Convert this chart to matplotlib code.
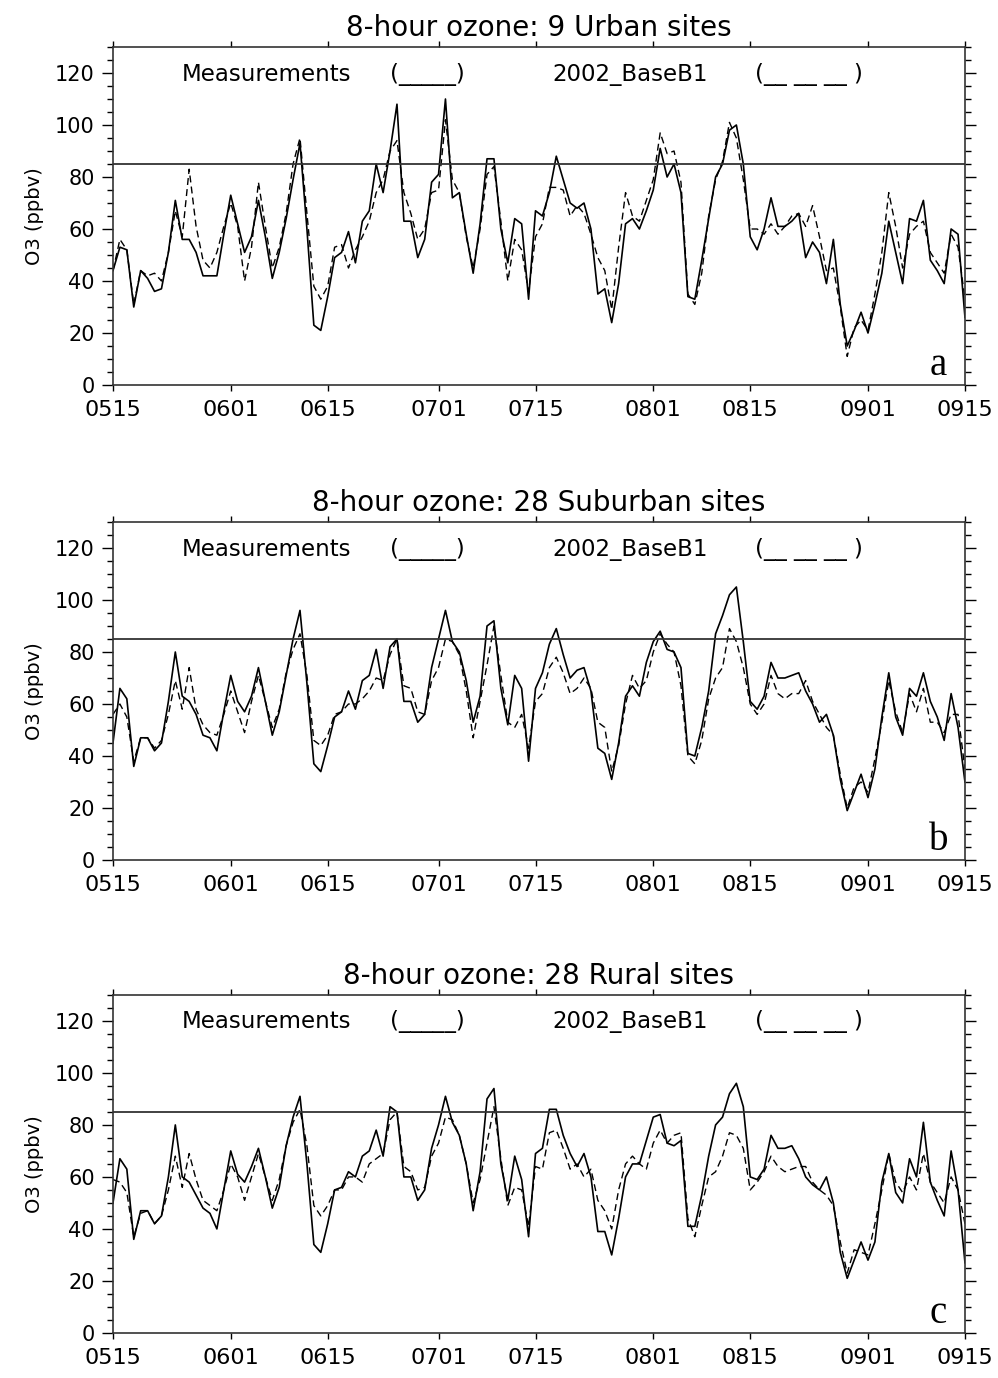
import numpy as np
import pandas as pd
import matplotlib
matplotlib.use("Agg")
import matplotlib.pyplot as plt
from matplotlib.ticker import MultipleLocator

# ----- daily 8-hour ozone, 0515 -> 0915 (ppbv) -----

start_date = "2002-05-15"
end_date = "2002-09-15"
tick_labels = ["0515", "0601", "0615", "0701", "0715", "0801", "0815", "0901", "0915"]

urban_obs = [44, 53, 52, 30, 44, 41, 36, 37, 51, 71, 56, 56, 51, 42, 42, 42, 58, 73, 62, 51,
             57, 71, 57, 41, 51, 64, 79, 93, 60, 23, 21, 34, 49, 51, 59, 47, 63, 67, 85, 74,
             90, 108, 63, 63, 49, 56, 78, 81, 110, 72, 74, 58, 43, 62, 87, 87, 60, 47, 64, 62,
             33, 67, 65, 74, 88, 79, 70, 68, 70, 60, 35, 37, 24, 39, 62, 64, 60, 67, 75, 91,
             80, 85, 74, 34, 33, 48, 64, 80, 85, 98, 100, 85, 57, 52, 60, 72, 61, 61, 63, 66,
             49, 55, 51, 39, 56, 31, 15, 21, 28, 20, 31, 43, 63, 51, 39, 64, 63, 71, 48, 44,
             39, 60, 58, 26]
urban_mod = [44, 56, 52, 31, 44, 42, 43, 40, 51, 67, 57, 83, 61, 48, 45, 51, 61, 70, 61, 40,
             53, 78, 61, 45, 53, 66, 85, 95, 66, 38, 33, 38, 53, 54, 45, 52, 57, 63, 74, 79,
             90, 94, 74, 66, 56, 60, 74, 75, 102, 79, 74, 57, 45, 60, 81, 84, 63, 40, 56, 52,
             36, 57, 62, 76, 76, 75, 65, 69, 66, 58, 49, 44, 29, 53, 74, 65, 63, 71, 79, 97,
             89, 90, 78, 35, 31, 43, 65, 79, 86, 101, 95, 79, 60, 60, 58, 62, 58, 61, 65, 66,
             61, 69, 57, 44, 45, 30, 11, 22, 25, 21, 35, 51, 74, 61, 45, 58, 61, 63, 51, 47,
             43, 58, 53, 33]

suburban_obs = [45, 66, 62, 36, 47, 47, 42, 45, 61, 80, 63, 61, 56, 48, 47, 42, 57, 71, 61, 57,
                63, 74, 61, 48, 57, 71, 85, 96, 68, 37, 34, 44, 55, 57, 65, 58, 69, 71, 81, 66,
                82, 85, 61, 61, 53, 56, 74, 85, 96, 84, 80, 69, 53, 63, 90, 92, 66, 52, 71, 66,
                38, 66, 72, 83, 89, 79, 70, 73, 74, 65, 43, 41, 31, 45, 63, 67, 63, 76, 84, 88,
                81, 80, 74, 41, 40, 51, 65, 87, 94, 102, 105, 84, 61, 58, 63, 76, 70, 70, 71, 72,
                65, 60, 53, 56, 48, 31, 19, 26, 33, 24, 35, 55, 72, 55, 48, 66, 63, 72, 61, 55,
                46, 64, 51, 30]
suburban_mod = [56, 60, 55, 38, 47, 47, 43, 46, 56, 69, 58, 74, 58, 52, 49, 48, 56, 65, 57, 49,
                61, 71, 61, 51, 58, 72, 81, 87, 71, 46, 44, 48, 56, 57, 60, 60, 62, 65, 70, 69,
                79, 85, 67, 66, 57, 56, 69, 74, 85, 84, 79, 65, 47, 61, 75, 90, 71, 53, 51, 56,
                43, 61, 64, 74, 78, 72, 64, 66, 70, 66, 53, 51, 34, 44, 60, 71, 66, 69, 80, 87,
                83, 80, 67, 40, 37, 46, 62, 70, 74, 89, 84, 74, 60, 56, 60, 71, 64, 62, 64, 64,
                69, 61, 56, 51, 48, 33, 20, 28, 30, 26, 39, 53, 69, 57, 49, 64, 57, 66, 53, 53,
                49, 56, 56, 35]

rural_obs = [50, 67, 63, 36, 47, 47, 42, 45, 60, 80, 60, 58, 53, 48, 46, 40, 55, 70, 61, 58,
             64, 71, 60, 48, 56, 72, 83, 91, 65, 34, 31, 42, 55, 56, 62, 60, 68, 70, 78, 68,
             87, 85, 60, 60, 51, 55, 71, 80, 91, 81, 76, 65, 47, 62, 90, 94, 65, 51, 68, 59,
             37, 69, 71, 86, 86, 76, 69, 64, 69, 60, 39, 39, 30, 44, 60, 65, 65, 74, 83, 84,
             73, 72, 74, 41, 41, 53, 68, 80, 83, 92, 96, 87, 60, 59, 63, 76, 71, 71, 72, 67,
             60, 57, 55, 60, 50, 31, 21, 28, 35, 28, 35, 58, 69, 54, 50, 67, 60, 81, 58, 51,
             45, 70, 55, 27]
rural_mod = [59, 58, 54, 37, 46, 47, 42, 45, 55, 68, 56, 69, 59, 51, 49, 47, 55, 65, 60, 51,
             60, 69, 60, 51, 59, 72, 81, 86, 72, 49, 45, 49, 55, 55, 60, 60, 58, 65, 67, 69,
             82, 85, 64, 62, 55, 56, 68, 73, 83, 82, 76, 65, 50, 59, 73, 87, 67, 49, 56, 55,
             41, 64, 63, 77, 78, 71, 63, 65, 60, 63, 51, 47, 40, 55, 65, 68, 65, 63, 73, 78,
             73, 76, 77, 44, 37, 49, 60, 62, 68, 77, 76, 71, 55, 58, 62, 68, 64, 62, 63, 64,
             64, 58, 55, 53, 49, 35, 23, 32, 31, 30, 42, 55, 69, 58, 54, 60, 55, 69, 58, 54,
             50, 60, 55, 42]

titles = ["8-hour ozone: 9 Urban sites",
          "8-hour ozone: 28 Suburban sites",
          "8-hour ozone: 28 Rural sites"]
letters = ["a", "b", "c"]
standard = 85   # 8-hour ozone standard (ppbv)

series = [(urban_obs, urban_mod), (suburban_obs, suburban_mod), (rural_obs, rural_mod)]

# day index of each tick label
dates = pd.date_range(start_date, end_date)
tick_days = [int(np.where(dates.strftime("%m%d") == t)[0][0]) for t in tick_labels]


# ----- figure -----

plt.rcParams['font.family'] = ['DejaVu Sans']
fig = plt.figure(figsize=(9.98, 13.78), dpi=100)

left, width, height = 0.1132, 0.8537, 0.2453
bottoms = [0.7206, 0.3759, 0.0327]

for i in range(3):
    obs, mod = series[i]
    ax = fig.add_axes([left, bottoms[i], width, height])
    days = np.arange(len(obs))

    ax.plot(days, obs, color="black", lw=1.2, ls="-")
    ax.plot(days, mod, color="black", lw=1.0, ls=(0, (5, 3)))
    ax.axhline(standard, color="#333333", lw=1.3)

    ax.set_xlim(0, len(obs) - 1)
    ax.set_ylim(0, 130)
    ax.set_xticks(tick_days)
    ax.set_xticklabels(tick_labels)
    ax.yaxis.set_major_locator(MultipleLocator(20))
    ax.yaxis.set_minor_locator(MultipleLocator(5))
    ax.set_yticks(range(0, 121, 20))

    ax.tick_params(axis="x", direction="out", length=4, width=1, labelsize=16, pad=7,
                   top=True, bottom=True)
    ax.tick_params(axis="y", which="major", direction="out", length=8, width=1,
                   labelsize=15, pad=5, left=True, right=True)
    ax.tick_params(axis="y", which="minor", direction="out", length=4, width=1,
                   left=True, right=True)
    for sp in ax.spines.values():
        sp.set_linewidth(1.2)
        sp.set_color("#333333")

    ax.set_ylabel("O3 (ppbv)", fontsize=14, labelpad=8)
    ax.set_title(titles[i], fontsize=20, pad=8)

    # legend written as text, like the original
    ax.text(0.081, 0.92, "Measurements", transform=ax.transAxes, fontsize=16.5, va="center")
    ax.text(0.325, 0.92, "(_____)", transform=ax.transAxes, fontsize=16.5, va="center")
    ax.text(0.516, 0.92, "2002_BaseB1", transform=ax.transAxes, fontsize=16.5, va="center")
    ax.text(0.753, 0.92, "(__ __ __ )", transform=ax.transAxes, fontsize=16.5, va="center")

    ax.text(0.969, 0.03, letters[i], transform=ax.transAxes, fontsize=28, ha="center",
            va="baseline", family="Liberation Serif")

fig.savefig("out.png", dpi=100)
